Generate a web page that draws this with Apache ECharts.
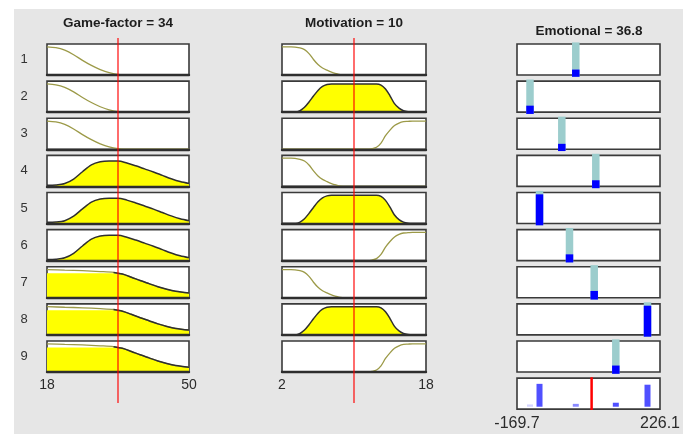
<!DOCTYPE html>
<html>
<head>
<meta charset="utf-8">
<title>Rule viewer: Emotional</title>
<script src="https://cdn.jsdelivr.net/npm/echarts@6/dist/echarts.min.js"></script>
<style>
  html, body { margin: 0; padding: 0; background: #ffffff; }
  #wrap { position: relative; width: 689px; height: 434px; overflow: hidden; }
  #panel { position: absolute; left: 14px; top: 9px; width: 669px; height: 425px; background: #e6e6e6; }
  #chart { position: absolute; left: 0; top: 0; width: 689px; height: 434px; }
</style>
</head>
<body>
<div id="wrap"><div id="panel"></div><div id="chart"></div></div>
<script>
// ---- Crisp inputs and the resulting output ----
const gameFactorValue = 34;
const motivationValue = 10;
const emotionalValue = 36.8;

const gameFactorRange = [18, 50];
const motivationRange = [2, 18];
const emotionalRange = [-169.7, 226.1];

const ruleNumbers = ['1', '2', '3', '4', '5', '6', '7', '8', '9'];

// ---- Input membership functions, sampled as [x, degree] ----
const gfLow = [[18, 1.0], [20, 0.97], [22, 0.88], [24, 0.72], [26, 0.52], [28, 0.34],
  [30, 0.19], [32, 0.08], [34, 0.02], [36, 0], [50, 0]];
const gfMid = [[18, 0.04], [20, 0.05], [22, 0.1], [24, 0.26], [26, 0.52], [28, 0.76],
  [30, 0.87], [32, 0.9], [34, 0.9], [36, 0.83], [38, 0.73], [40, 0.62], [42, 0.51],
  [44, 0.39], [46, 0.27], [48, 0.17], [50, 0.1]];
const gfHigh = [[18, 1.0], [22, 0.98], [26, 0.96], [30, 0.93], [33, 0.9], [35, 0.84],
  [37, 0.73], [39, 0.61], [41, 0.5], [43, 0.39], [45, 0.3], [47, 0.23], [50, 0.17]];
const gfHighFillTop = 0.87;

const mLow = [[2, 1.0], [3, 1.0], [4, 0.96], [4.5, 0.9], [5, 0.76], [5.5, 0.55], [6, 0.37],
  [6.5, 0.25], [7, 0.17], [7.5, 0.1], [8, 0.05], [8.5, 0.01], [9, 0], [18, 0]];
const mMid = [[2, 0], [3.5, 0], [4, 0.05], [4.5, 0.17], [5, 0.36], [5.5, 0.57], [6, 0.77],
  [6.5, 0.91], [7, 0.98], [7.5, 1.0], [12.5, 1.0], [13, 0.96], [13.5, 0.82], [14, 0.58],
  [14.5, 0.3], [15, 0.14], [15.5, 0.05], [16, 0.01], [16.5, 0], [18, 0]];
const mHigh = [[2, 0], [11.5, 0], [12, 0.02], [12.5, 0.07], [13, 0.22], [13.5, 0.48],
  [14, 0.68], [14.5, 0.84], [15, 0.93], [15.5, 0.98], [16, 0.99], [16.5, 1.0], [18, 1.0]];

// ---- Rule base ----
const ruleGameFactorMF = ['low', 'low', 'low', 'mid', 'mid', 'mid', 'high', 'high', 'high'];
const ruleMotivationMF = ['low', 'mid', 'high', 'low', 'mid', 'high', 'low', 'mid', 'high'];
// singleton output level of each rule and the strength bar drawn for it
const ruleOutputLevel = [-7.0, -133.7, -45.7, 48.4, -107.4, -24.4, 44.0, 191.5, 103.8];
const ruleStrengthBar = [0.21, 0.24, 0.21, 0.23, 0.90, 0.235, 0.25, 0.90, 0.24];
// aggregated output, one bar per rule
const aggregateHeight = [0.1, 0.08, 0, 0, 0.8, 0, 0, 0.77, 0.14];

// ---- Layout ----
const FONT = '"Liberation Sans", Arial, Helvetica, sans-serif';
const COLS = {
  gf: { left: 47, width: 142 },
  m: { left: 282, width: 144 },
  out: { left: 517, width: 143 }
};
const ROW_TOP = 44, ROW_STEP = 37.125, BOX_H = 31;
const rowTop = i => ROW_TOP + i * ROW_STEP;

const gfCurves = { low: gfLow, mid: gfMid, high: gfHigh };
const mCurves = { low: mLow, mid: mMid, high: mHigh };
const gfFilled = { low: false, mid: true, high: true };
const mFilled = { low: false, mid: true, high: false };

const grids = [], xAxes = [], yAxes = [], series = [], texts = [];
const boxStyle = { show: true, backgroundColor: '#ffffff', borderColor: '#3a3a3a', borderWidth: 1.6 };

function addGrid(rect, xr, yr, gridOpt, xOpt) {
  const i = grids.length;
  grids.push(Object.assign({ left: rect.left, top: rect.top, width: rect.width, height: rect.height }, gridOpt || { show: false }));
  xAxes.push(Object.assign({
    type: 'value', gridIndex: i, min: xr[0], max: xr[1],
    axisLine: { show: false }, axisTick: { show: false },
    splitLine: { show: false }, axisLabel: { show: false }
  }, xOpt || {}));
  yAxes.push({ type: 'value', gridIndex: i, min: yr[0], max: yr[1], show: false });
  return i;
}

function lineBase(g) {
  return { type: 'line', xAxisIndex: g, yAxisIndex: g, symbol: 'none', smooth: 0.3,
    silent: true, animation: false };
}

function mfPanel(g, curve, filled, fillTop) {
  if (filled) {
    const fill = fillTop == null ? curve : curve.map(p => [p[0], Math.min(p[1], fillTop)]);
    series.push(Object.assign(lineBase(g), { data: fill, lineStyle: { width: 0 },
      areaStyle: { color: '#ffff00', opacity: 1 }, z: 2 }));
  }
  if (!filled || fillTop != null) {
    series.push(Object.assign(lineBase(g), { data: curve,
      lineStyle: { color: '#9c9a48', width: 1.3 }, z: 3 }));
  }
  if (filled) {
    const edge = fillTop == null ? curve : curve.filter(p => p[0] >= 33);
    series.push(Object.assign(lineBase(g), { data: edge,
      lineStyle: { color: '#2f2f2f', width: 1.5 }, z: 4 }));
  }
}

function tickLabelAxis(values, size, margin) {
  return {
    axisLine: { show: true, lineStyle: { color: '#2e2e2e', width: 2.4 } }, z: 10,
    axisLabel: { show: true, customValues: values, margin: margin, fontSize: size,
      color: '#2b2b2b', fontFamily: FONT, formatter: v => String(v) }
  };
}

// ---- Input columns ----
ruleNumbers.forEach((label, r) => {
  const top = rowTop(r);
  const last = r === ruleNumbers.length - 1;
  const bottomLine = { axisLine: { show: true, lineStyle: { color: '#2e2e2e', width: 2.4 } }, z: 10 };

  const gfKey = ruleGameFactorMF[r];
  const g1 = addGrid({ left: COLS.gf.left, top: top, width: COLS.gf.width, height: BOX_H },
    gameFactorRange, [0, 1.1], boxStyle,
    last ? tickLabelAxis(gameFactorRange, 14, 6) : bottomLine);
  mfPanel(g1, gfCurves[gfKey], gfFilled[gfKey], gfKey === 'high' ? gfHighFillTop : null);

  const mKey = ruleMotivationMF[r];
  const g2 = addGrid({ left: COLS.m.left, top: top, width: COLS.m.width, height: BOX_H },
    motivationRange, [0, 1.1], boxStyle,
    last ? tickLabelAxis(motivationRange, 14, 6) : bottomLine);
  mfPanel(g2, mCurves[mKey], mFilled[mKey], null);

  texts.push({ type: 'text', x: 24, y: top + BOX_H / 2,
    style: { text: label, font: '13px ' + FONT, fill: '#333333',
      textAlign: 'center', textVerticalAlign: 'middle', align: 'center', verticalAlign: 'middle' } });
});

// ---- Output column: one singleton per rule ----
ruleOutputLevel.forEach((level, r) => {
  const top = rowTop(r);
  addGrid({ left: COLS.out.left, top: top, width: COLS.out.width, height: BOX_H },
    emotionalRange, [0, 1], boxStyle);
  const d = addGrid({ left: COLS.out.left, top: top - 1.6, width: COLS.out.width, height: BOX_H + 3.4 },
    emotionalRange, [0, 1]);
  series.push({ type: 'bar', xAxisIndex: d, yAxisIndex: d, data: [[level, 1]],
    barWidth: 7.5, barGap: '-100%', itemStyle: { color: '#9ccdcd' }, silent: true, z: 2, animation: false });
  series.push({ type: 'bar', xAxisIndex: d, yAxisIndex: d, data: [[level, ruleStrengthBar[r]]],
    barWidth: 7.5, barGap: '-100%', itemStyle: { color: '#0000ff' }, silent: true, z: 3, animation: false });
});

// ---- Aggregated output row ----
const aggTop = rowTop(ruleNumbers.length);
addGrid({ left: COLS.out.left, top: aggTop, width: COLS.out.width, height: BOX_H },
  emotionalRange, [0, 1], boxStyle, {
    axisLabel: { show: true, customValues: emotionalRange, margin: 6, fontSize: 16,
      color: '#2b2b2b', fontFamily: FONT, formatter: v => String(v) }
  });
const ga = addGrid({ left: COLS.out.left, top: aggTop, width: COLS.out.width, height: BOX_H - 2.4 },
  emotionalRange, [0, 1]);
series.push({ type: 'bar', xAxisIndex: ga, yAxisIndex: ga, silent: true, animation: false, z: 3,
  data: ruleOutputLevel.map((lv, i) => [lv, aggregateHeight[i]]).filter(p => p[1] > 0),
  barWidth: 6,
  itemStyle: { color: p => p.value[1] < 0.09 ? '#d4d4ff' : (p.value[1] < 0.12 ? '#8a8aff' : '#5050ff') } });
const gr3 = addGrid({ left: COLS.out.left, top: aggTop - 0.8, width: COLS.out.width, height: BOX_H + 1.6 },
  emotionalRange, [0, 1]);
series.push(Object.assign(lineBase(gr3), { smooth: false, data: [[emotionalValue, 0], [emotionalValue, 1]],
  lineStyle: { color: '#ff0000', width: 2.5 }, z: 10 }));

// ---- Input value cursors ----
const gr1 = addGrid({ left: COLS.gf.left, top: 38, width: COLS.gf.width, height: 365 }, gameFactorRange, [0, 1]);
series.push(Object.assign(lineBase(gr1), { smooth: false, data: [[gameFactorValue, 0], [gameFactorValue, 1]],
  lineStyle: { color: 'rgba(255,0,0,0.72)', width: 1.6 }, z: 10 }));
const gr2 = addGrid({ left: COLS.m.left, top: 38, width: COLS.m.width, height: 365 }, motivationRange, [0, 1]);
series.push(Object.assign(lineBase(gr2), { smooth: false, data: [[motivationValue, 0], [motivationValue, 1]],
  lineStyle: { color: 'rgba(255,0,0,0.72)', width: 1.6 }, z: 10 }));

// ---- Column headers ----
function header(text, x, y) {
  texts.push({ type: 'text', x: x, y: y,
    style: { text: text, font: 'bold 13.5px ' + FONT, fill: '#1e1e1e',
      textAlign: 'center', textVerticalAlign: 'middle', align: 'center', verticalAlign: 'middle' } });
}
header('Game-factor = ' + gameFactorValue, COLS.gf.left + COLS.gf.width / 2, 23);
header('Motivation = ' + motivationValue, COLS.m.left + COLS.m.width / 2, 23);
header('Emotional = ' + emotionalValue, COLS.out.left + COLS.out.width / 2 + 0.5, 31);

const chart = echarts.init(document.getElementById('chart'), null, { renderer: 'canvas' });
chart.setOption({
  animation: false,
  backgroundColor: 'transparent',
  grid: grids,
  xAxis: xAxes,
  yAxis: yAxes,
  series: series,
  graphic: { elements: texts }
});
</script>
</body>
</html>
